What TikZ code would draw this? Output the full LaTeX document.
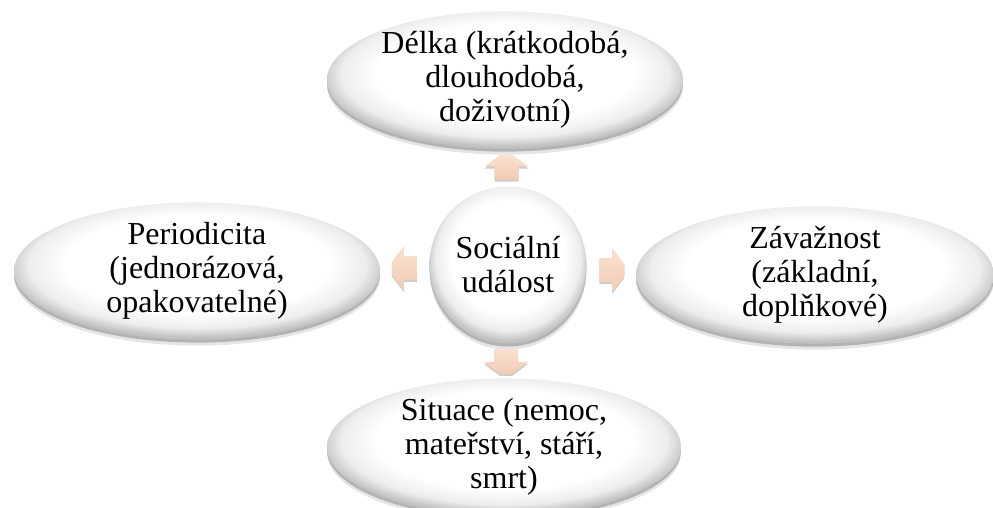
\documentclass[tikz,border=0pt]{standalone}
\usepackage{fontspec}
\setmainfont{Liberation Serif}
\usetikzlibrary{shapes.geometric,shadows,calc}
\definecolor{peachA}{HTML}{FAE1D1}
\definecolor{peachB}{HTML}{F2CBB3}
\pgfdeclareradialshading{bubbleshade}{\pgfpoint{0bp}{4bp}}{color(0bp)=(white); color(18bp)=(white); color(23bp)=(black!7); color(26bp)=(black!24); color(50bp)=(black!24)}
\tikzset{
  bubble/.style={ellipse, inner sep=0pt, align=center,
    font=\fontsize{32}{34}\selectfont,
    shading=bubbleshade,
    general shadow={shadow xshift=0pt, shadow yshift=-6pt, opacity=0.10, fill=black},
    general shadow={shadow xshift=0pt, shadow yshift=-3pt, opacity=0.22, fill=black}},
  arrowfill/.style={top color=peachA, bottom color=peachB,
    drop shadow={shadow xshift=0pt, shadow yshift=-2pt, opacity=0.2, fill=black}},
  blockarrow/.pic={\path[arrowfill] (-12,-12) -- (1,-12) -- (1,-22) -- (13,-6) -- (13,6) -- (1,22) -- (1,12) -- (-12,12) -- cycle;}
}
\begin{document}
\begin{tikzpicture}[x=1pt,y=-1pt]
\useasboundingbox (0,0) rectangle (993,507);
\node[bubble, minimum width=356pt, minimum height=130pt] (top) at (505,80)
  {Délka (krátkodobá,\\dlouhodobá,\\doživotní)};
\node[bubble, minimum width=366pt, minimum height=132pt] (left) at (197,271)
  {Periodicita\\(jednorázová,\\opakovatelné)};
\node[bubble, minimum width=358pt, minimum height=130pt] (right) at (815,275)
  {Závažnost\\(základní,\\doplňkové)};
\node[bubble, minimum width=354pt, minimum height=130pt] (bottom) at (504,447)
  {Situace (nemoc,\\mateřství, stáří,\\smrt)};
\node[bubble, circle, minimum size=157pt] (c) at (508,265) {Sociální\\událost};
\pic[rotate=90] at ($(c.north)!0.5!(top.south)$) {blockarrow};
\pic[rotate=180] at ($(c.west)!0.5!(left.east)$) {blockarrow};
\pic at ($(c.east)!0.5!(right.west)$) {blockarrow};
\pic[rotate=-90] at ($(c.south)!0.5!(bottom.north)$) {blockarrow};
\end{tikzpicture}
\end{document}
